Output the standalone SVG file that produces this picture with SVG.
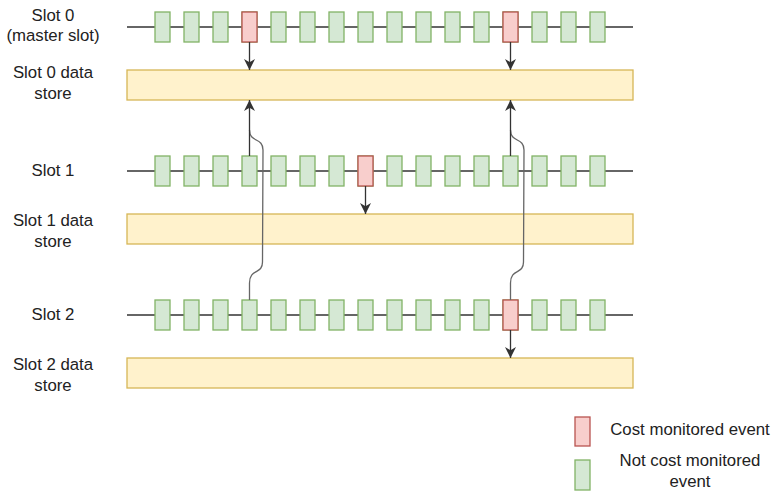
<svg xmlns="http://www.w3.org/2000/svg" width="775" height="492" viewBox="0 0 775 492">
<style>
.lbl{font-family:"Liberation Sans",Arial,sans-serif;font-size:16.8px;fill:#222;text-anchor:middle}
.ev{fill:#d5e8d4;stroke:#82b366;stroke-width:1.3}
.cm{fill:#f8cecc;stroke:#b85450;stroke-width:1.3}
.store{fill:#fff2cc;stroke:#d6b656;stroke-width:1.3}
.tl{stroke:#333;stroke-width:1.3;fill:none}
.arr{stroke:#333;stroke-width:1.3;fill:none;marker-end:url(#ah)}
.crv{stroke:#666;stroke-width:1.3;fill:none}
</style>
<defs>
<marker id="ah" viewBox="0 0 10 10" refX="10" refY="5" markerWidth="11" markerHeight="11" markerUnits="userSpaceOnUse" orient="auto">
<path d="M0,0 L10,5 L0,10 L3,5 Z" fill="#333"/>
</marker>
<g id="row">
<rect class="ev" x="155" y="0" width="15" height="30"/>
<rect class="ev" x="184" y="0" width="15" height="30"/>
<rect class="ev" x="213" y="0" width="15" height="30"/>
<rect class="ev" x="242" y="0" width="15" height="30"/>
<rect class="ev" x="271" y="0" width="15" height="30"/>
<rect class="ev" x="300" y="0" width="15" height="30"/>
<rect class="ev" x="329" y="0" width="15" height="30"/>
<rect class="ev" x="358" y="0" width="15" height="30"/>
<rect class="ev" x="387" y="0" width="15" height="30"/>
<rect class="ev" x="416" y="0" width="15" height="30"/>
<rect class="ev" x="445" y="0" width="15" height="30"/>
<rect class="ev" x="474" y="0" width="15" height="30"/>
<rect class="ev" x="503" y="0" width="15" height="30"/>
<rect class="ev" x="532" y="0" width="15" height="30"/>
<rect class="ev" x="561" y="0" width="15" height="30"/>
<rect class="ev" x="590" y="0" width="15" height="30"/>
</g>
</defs>

<g id="labels">
<text class="lbl" x="53" y="21">Slot 0</text>
<text class="lbl" x="53" y="41">(master slot)</text>
<text class="lbl" x="53" y="78">Slot 0 data</text>
<text class="lbl" x="53" y="99">store</text>
<text class="lbl" x="53" y="176">Slot 1</text>
<text class="lbl" x="53" y="226">Slot 1 data</text>
<text class="lbl" x="53" y="247">store</text>
<text class="lbl" x="53" y="320">Slot 2</text>
<text class="lbl" x="53" y="370">Slot 2 data</text>
<text class="lbl" x="53" y="391">store</text>
</g>

<g id="slot0">
<line class="tl" x1="127" y1="27" x2="633" y2="27"/>
<use href="#row" y="12"/>
<rect class="cm" x="242" y="12" width="15" height="30"/>
<rect class="cm" x="503" y="12" width="15" height="30"/>
</g>
<g id="store0"><rect class="store" x="127" y="70" width="506" height="30"/></g>

<g id="slot1">
<line class="tl" x1="127" y1="171" x2="633" y2="171"/>
<use href="#row" y="156"/>
<rect class="cm" x="358" y="156" width="15" height="30"/>
</g>
<g id="store1"><rect class="store" x="127" y="214" width="506" height="30"/></g>

<g id="slot2">
<line class="tl" x1="127" y1="315" x2="633" y2="315"/>
<use href="#row" y="300"/>
<rect class="cm" x="503" y="300" width="15" height="30"/>
</g>
<g id="store2"><rect class="store" x="127" y="358" width="506" height="30"/></g>

<g id="connectors">
<path class="crv" d="M249.5,300 L249.5,283 C249.5,268 262.5,275 262.5,262 L263,150 C263,137 249.5,143 249.5,130"/>
<path class="crv" d="M510.5,300 L510.5,283 C510.5,268 523.5,275 523.5,262 L524,150 C524,137 510.5,143 510.5,130"/>
<path class="arr" d="M249.5,42 L249.5,70"/>
<path class="arr" d="M510.5,42 L510.5,70"/>
<path class="arr" d="M249.5,156 L249.5,100"/>
<path class="arr" d="M510.5,156 L510.5,100"/>
<path class="arr" d="M365.5,186 L365.5,214"/>
<path class="arr" d="M510.5,330 L510.5,358"/>
</g>

<g id="legend">
<rect class="cm" x="575" y="417" width="15" height="29"/>
<text class="lbl" x="690" y="435">Cost monitored event</text>
<rect class="ev" x="575" y="460" width="15" height="30"/>
<text class="lbl" x="690" y="466">Not cost monitored</text>
<text class="lbl" x="690" y="487">event</text>
</g>
</svg>
